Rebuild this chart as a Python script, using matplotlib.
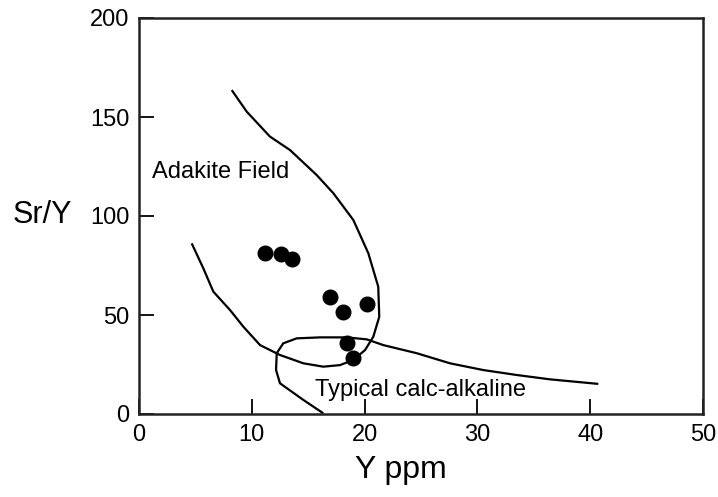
"""
Sr/Y vs Y discrimination diagram (adakite vs typical calc-alkaline).
Output: out.png
"""

import matplotlib
matplotlib.use("Agg")
import matplotlib.pyplot as plt

plt.rcParams["font.family"] = ["Liberation Sans", "DejaVu Sans"]

# samples
sample_y = [11.2, 12.6, 13.6, 16.9, 18.1, 20.2, 18.4, 19.0]
sample_sry = [81.5, 80.7, 78.3, 58.9, 51.5, 55.7, 36.0, 28.3]

# adakite field boundary (traced)
adakite_x = [8.22, 9.55, 11.61, 13.39, 15.75, 17.23, 19.0, 20.33, 21.21, 21.30,
             20.77, 20.04, 19.0, 17.82, 16.34, 14.57, 12.5, 10.73, 9.25, 8.07,
             6.59, 5.70, 4.67]
adakite_y = [163.6, 152.7, 140.1, 133.3, 120.7, 111.5, 98.0, 81.2, 64.3, 49.1,
             39.0, 32.3, 27.3, 24.7, 23.9, 25.6, 29.8, 34.8, 44.1, 52.5,
             61.8, 73.6, 86.2]

# typical calc-alkaline boundary (traced)
calc_x = [16.34, 14.57, 12.5, 12.15, 12.21, 12.79, 13.98, 16.05, 18.41, 20.19,
          21.66, 24.62, 27.57, 30.52, 33.48, 36.44, 40.72]
calc_y = [0.35, 7.1, 15.5, 22.2, 30.7, 35.7, 38.2, 38.7, 38.7, 37.7,
          34.8, 30.7, 25.6, 22.2, 19.7, 17.5, 15.2]

x_ticks = [0, 10, 20, 30, 40, 50]
y_ticks = [0, 50, 100, 150, 200]

fig = plt.figure(figsize=(7.18, 4.97), dpi=100)
ax = fig.add_axes([139 / 718, 1 - 414 / 497, 564 / 718, 396 / 497])

ax.plot(adakite_x, adakite_y, color="black", lw=1.6, solid_capstyle="butt")
ax.plot(calc_x, calc_y, color="black", lw=1.6, solid_capstyle="butt")
ax.plot(sample_y, sample_sry, "o", color="black", markersize=10.5)

ax.text(1.15, 122, "Adakite Field", fontsize=17, va="center", ha="left")
ax.text(15.6, 12.0, "Typical calc-alkaline", fontsize=17, va="center", ha="left")

ax.set_xlim(0, 50)
ax.set_ylim(0, 200)
ax.set_xticks(x_ticks)
ax.set_yticks(y_ticks)
ax.tick_params(direction="in", length=11, width=1.3, labelsize=17, color="black")
ax.tick_params(axis="x", pad=7)
ax.tick_params(axis="y", pad=7)
for side in ["left", "right", "top", "bottom"]:
    ax.spines[side].set_linewidth(1.8)
    ax.spines[side].set_color("#222222")

ax.set_xlabel("Y ppm", fontsize=23, va="center")
ax.xaxis.set_label_coords(0.4645, -0.141)
ax.set_ylabel("Sr/Y", fontsize=22, rotation=0, va="center", ha="center")
ax.yaxis.set_label_coords(-0.172, 0.5025)

fig.savefig("out.png", dpi=100)
plt.close(fig)
